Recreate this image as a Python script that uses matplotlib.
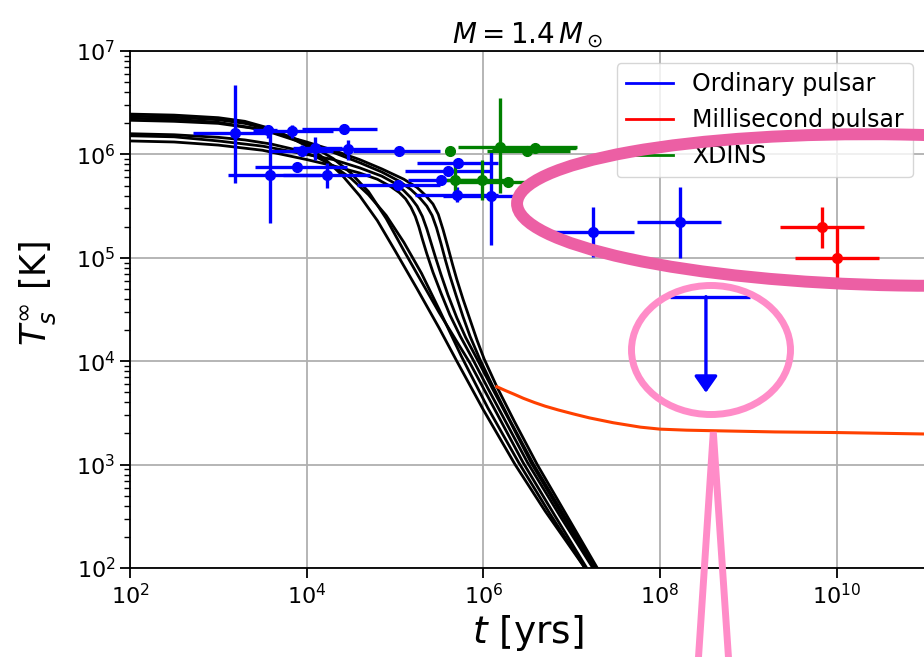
import numpy as np
import matplotlib
matplotlib.use("Agg")
import matplotlib.pyplot as plt
from matplotlib.lines import Line2D
from matplotlib.patches import Ellipse, Polygon, ArrowStyle
from matplotlib.ticker import NullLocator, LogLocator

# cooling curves as (log10 t [yr], log10 T [K])
cool_logt = [
    [2.0, 2.5, 3.0, 3.3, 3.55, 3.8, 4.0, 4.2, 4.4, 4.6, 4.8, 5.0, 5.25, 5.5, 5.7, 6.0, 6.36, 6.7, 7.15],
    [2.0, 2.5, 3.0, 3.3, 3.6, 3.9, 4.1, 4.3, 4.5, 4.7, 4.9, 5.1, 5.3, 5.5, 5.75, 6.05, 6.4, 6.75, 7.15],
    [2.0, 2.5, 3.0, 3.3, 3.6, 3.9, 4.1, 4.3, 4.5, 4.7, 4.9, 5.1, 5.3, 5.5, 5.85, 6.1, 6.45, 6.8, 7.17],
    [2.0, 2.5, 3.0, 3.5, 4.0, 4.3, 4.6, 4.8, 4.95, 5.05, 5.12, 5.18, 5.23, 5.27, 5.31, 5.36, 5.43,
     5.52, 5.62, 5.74, 5.88, 6.05, 6.25, 6.50, 6.87, 7.24],
    [2.0, 2.5, 3.0, 3.5, 4.0, 4.3, 4.6, 4.85, 5.0, 5.1, 5.18, 5.25, 5.31, 5.36, 5.41, 5.46, 5.52,
     5.60, 5.70, 5.80, 5.93, 6.1, 6.3, 6.54, 6.9, 7.26],
    [2.0, 2.5, 3.0, 3.5, 4.0, 4.3, 4.6, 4.85, 5.05, 5.18, 5.28, 5.36, 5.42, 5.47, 5.52, 5.57, 5.62,
     5.69, 5.77, 5.85, 5.96, 6.1, 6.3, 6.57, 6.92, 7.28],
    [2.0, 2.5, 3.0, 3.5, 4.0, 4.3, 4.6, 4.85, 5.1, 5.25, 5.35, 5.43, 5.49, 5.545, 5.60, 5.65, 5.70,
     5.77, 5.85, 5.93, 6.01, 6.153, 6.35, 6.61, 6.95, 7.29],
]
cool_logT = [
    [6.39, 6.38, 6.355, 6.32, 6.26, 6.17, 6.08, 5.96, 5.80, 5.60, 5.36, 5.07, 4.70, 4.32, 4.00, 3.53, 3.00, 2.55, 2.00],
    [6.20, 6.19, 6.165, 6.14, 6.10, 6.04, 5.98, 5.89, 5.77, 5.61, 5.41, 5.15, 4.85, 4.50, 4.05, 3.55, 3.02, 2.53, 2.00],
    [6.37, 6.36, 6.335, 6.30, 6.24, 6.14, 6.06, 5.96, 5.82, 5.64, 5.38, 5.07, 4.77, 4.47, 3.98, 3.58, 3.02, 2.52, 2.00],
    [6.13, 6.12, 6.09, 6.04, 5.95, 5.89, 5.82, 5.76, 5.69, 5.63, 5.57, 5.49, 5.40, 5.30, 5.18, 5.04, 4.86,
     4.66, 4.45, 4.24, 4.02, 3.74, 3.42, 3.02, 2.50, 2.00],
    [6.18, 6.17, 6.13, 6.08, 6.00, 5.95, 5.87, 5.79, 5.72, 5.65, 5.58, 5.50, 5.40, 5.28, 5.14, 5.00, 4.84,
     4.64, 4.42, 4.23, 4.02, 3.74, 3.42, 3.02, 2.50, 2.00],
    [6.35, 6.34, 6.31, 6.24, 6.10, 6.02, 5.92, 5.83, 5.74, 5.66, 5.58, 5.50, 5.41, 5.29, 5.14, 4.98, 4.83,
     4.64, 4.43, 4.24, 4.02, 3.77, 3.43, 3.00, 2.50, 2.00],
    [6.33, 6.32, 6.30, 6.24, 6.12, 6.04, 5.95, 5.86, 5.76, 5.68, 5.60, 5.52, 5.42, 5.27, 5.10, 4.94, 4.79,
     4.60, 4.40, 4.20, 4.02, 3.753, 3.42, 3.00, 2.50, 2.00],
]

# heated branch (millisecond pulsars)
heat_logt = [6.153, 6.25, 6.35, 6.454, 6.58, 6.7, 6.85, 7.02, 7.2, 7.47, 7.78, 8.0, 8.3, 8.7, 9.3, 10.0, 11.0]
heat_logT = [3.753, 3.716, 3.680, 3.641, 3.60, 3.565, 3.528, 3.490, 3.452, 3.405, 3.362, 3.343, 3.333,
             3.326, 3.316, 3.31, 3.296]

# observations: log t, log T, then lower/upper bounds of t and T
ord_logt = [3.189, 3.566, 3.838, 4.424, 3.951, 4.095, 4.465, 5.050, 5.718, 5.598,
            5.522, 5.039, 5.700, 6.088, 3.585, 3.895, 4.227, 7.240, 8.221]
ord_logT = [6.204, 6.236, 6.226, 6.246, 6.033, 6.065, 6.049, 6.036, 5.920, 5.839,
            5.752, 5.704, 5.607, 5.598, 5.801, 5.881, 5.801, 5.247, 5.349]
ord_t_lo = [2.717, 3.397, 3.585, 3.944, 3.60, 3.85, 4.15, 4.529, 5.247, 5.114,
            5.15, 4.567, 5.23, 5.548, 3.113, 3.416, 3.736, 6.757, 7.738]
ord_t_hi = [3.548, 3.661, 4.303, 4.794, 4.30, 4.40, 4.80, 5.511, 6.171, 6.077,
            5.65, 5.511, 6.17, 6.454, 4.152, 4.454, 4.718, 7.711, 8.693]
ord_T_lo = [5.720, 6.156, 6.156, 6.20, 5.98, 5.946, 5.946, 6.00, 5.88, 5.80,
            5.72, 5.67, 5.543, 5.124, 5.334, 5.84, 5.672, 5.011, 4.995]
ord_T_hi = [6.671, 6.284, 6.284, 6.29, 6.09, 6.171, 6.139, 6.07, 5.96, 5.88,
            5.79, 5.74, 5.688, 6.027, 6.236, 5.92, 5.914, 5.494, 5.688]

msp_logt = [9.833, 10.003]
msp_logT = [5.295, 4.995]
msp_t_lo = [9.354, 9.531]
msp_t_hi = [10.305, 10.475]
msp_T_lo = [5.092, 4.785]
msp_T_hi = [5.494, 5.285]

xdins_logt = [5.624, 6.190, 6.492, 6.587, 5.681, 5.983, 6.284]
xdins_logT = [6.036, 6.068, 6.036, 6.065, 5.752, 5.752, 5.736]
xdins_t_lo = [5.60, 5.718, 6.039, 6.10, 5.47, 5.70, 5.70]
xdins_t_hi = [5.65, 7.059, 6.983, 7.05, 5.95, 6.25, 6.50]
xdins_T_lo = [6.02, 5.624, 6.00, 6.04, 5.624, 5.559, 5.70]
xdins_T_hi = [6.05, 6.542, 6.07, 6.09, 5.946, 5.946, 5.77]

# upper limit (ordinary pulsar)
ul_logt, ul_logT = 8.520, 4.624
ul_t_lo, ul_t_hi = 8.115, 9.022
ul_arrow_logT = 3.695


def errs(c, lo, hi):
    c, lo, hi = np.array(c), np.array(lo), np.array(hi)
    return 10**c, np.vstack([10**c - 10**lo, 10**hi - 10**c])


W, H = 924, 657
fig = plt.figure(figsize=(W / 100, H / 100), dpi=100)
ax = fig.add_axes([130 / W, (H - 568) / H, (925 - 130) / W, (568 - 51) / H])

for lt, lT in zip(cool_logt, cool_logT):
    ax.plot(10**np.array(lt), 10**np.array(lT), color='black', lw=2, zorder=3)

ax.plot(10**np.array(heat_logt), 10**np.array(heat_logT), color='#ff4000', lw=2.2, zorder=3)

sets = [
    (ord_logt, ord_logT, ord_t_lo, ord_t_hi, ord_T_lo, ord_T_hi, 'blue'),
    (msp_logt, msp_logT, msp_t_lo, msp_t_hi, msp_T_lo, msp_T_hi, 'red'),
    (xdins_logt, xdins_logT, xdins_t_lo, xdins_t_hi, xdins_T_lo, xdins_T_hi, 'green'),
]
for lt, lT, tlo, thi, Tlo, Thi, col in sets:
    t, xe = errs(lt, tlo, thi)
    T, ye = errs(lT, Tlo, Thi)
    ax.errorbar(t, T, xerr=xe, yerr=ye, fmt='o', color=col, ms=7,
                elinewidth=2.4, capsize=0, zorder=4)

# upper limit
t_ul, xe_ul = errs([ul_logt], [ul_t_lo], [ul_t_hi])
ax.errorbar(t_ul, [10**ul_logT], xerr=xe_ul, fmt='none', ecolor='blue',
            elinewidth=2.4, zorder=4)
ax.annotate('', xy=(10**ul_logt, 10**ul_arrow_logT), xytext=(10**ul_logt, 10**ul_logT),
            arrowprops=dict(arrowstyle=ArrowStyle('-|>', head_length=0.4, head_width=0.28),
                            mutation_scale=25, color='blue', lw=2.4,
                            shrinkA=0, shrinkB=0), zorder=4)

ax.set_xscale('log')
ax.set_yscale('log')
ax.set_xlim(1e2, 1e11)
ax.set_ylim(1e2, 1e7)
ax.set_xticks([1e2, 1e4, 1e6, 1e8, 1e10])
ax.xaxis.set_minor_locator(NullLocator())
ax.set_yticks([1e2, 1e3, 1e4, 1e5, 1e6, 1e7])
ax.yaxis.set_minor_locator(LogLocator(base=10, subs=np.arange(2, 10)))
ax.yaxis.set_minor_formatter(plt.NullFormatter())
ax.tick_params(which='major', labelsize=16, length=7, width=1.3)
ax.tick_params(which='minor', length=4, width=1.0)
for s in ax.spines.values():
    s.set_linewidth(1.3)
ax.grid(True, which='major', color='#b0b0b0', lw=1.3)
ax.set_axisbelow(True)

ax.set_xlabel(r'$t$ [yrs]', fontsize=27)
ax.set_ylabel(r'$T_s^\infty$ [K]', fontsize=25)
ax.yaxis.set_label_coords(-0.09, 0.53)
ax.set_title(r'$M=1.4\,M_\odot$', fontsize=20, pad=6)

handles = [Line2D([], [], color='blue', lw=2),
           Line2D([], [], color='red', lw=2),
           Line2D([], [], color='green', lw=2)]
ax.legend(handles, ['Ordinary pulsar', 'Millisecond pulsar', 'XDINS'],
          loc='upper right', fontsize=17)

# highlight annotations, placed in figure pixels
tr = fig.dpi_scale_trans
fig.add_artist(Ellipse((900 / 100, (H - 210) / 100), 7.66, 1.51, angle=-1,
                       fill=False, ec='#ec5fa4', lw=8.6, transform=tr, clip_on=False))
fig.add_artist(Ellipse((711 / 100, (H - 350) / 100), 1.59, 1.29,
                       fill=False, ec='#ff8cc8', lw=5, transform=tr, clip_on=False))
fig.add_artist(Polygon([(697 / 100, (H - 680) / 100), (713.3 / 100, (H - 432) / 100),
                        (730 / 100, (H - 680) / 100)], closed=False, fill=False,
                       ec='#ff8cc8', lw=5, joinstyle='bevel', transform=tr, clip_on=False))

fig.savefig('out.png', dpi=100)
